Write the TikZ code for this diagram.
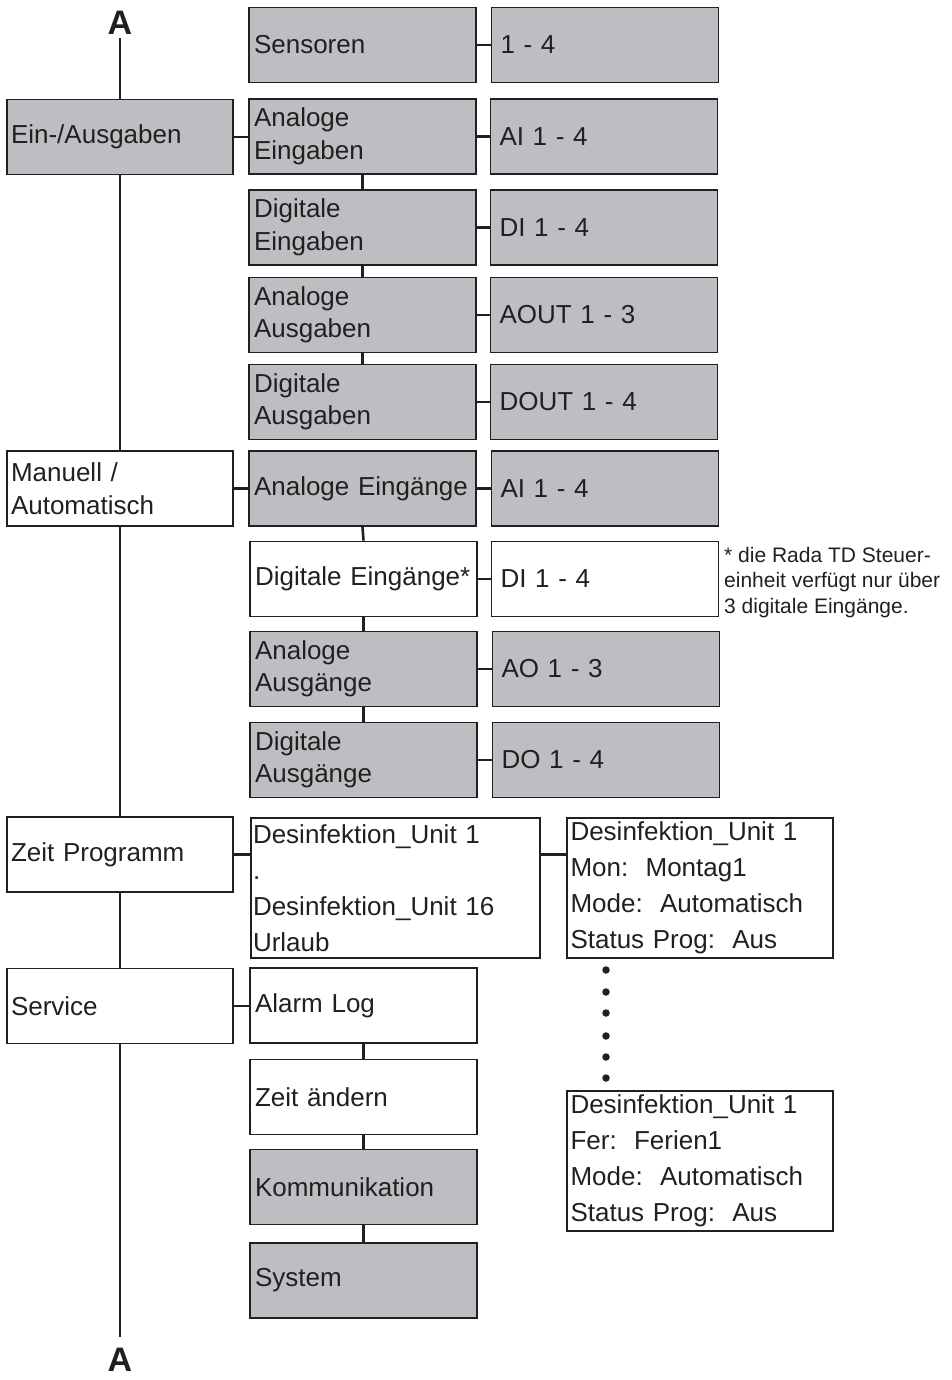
\documentclass[tikz,border=0pt]{standalone}
\usepackage{fontspec}
\setmainfont{Liberation Sans}
\definecolor{ink}{RGB}{35,31,32}
\definecolor{panel}{RGB}{189,190,193}
\begin{document}
\begin{tikzpicture}[x=1pt,y=-1pt,
  box/.style={draw=ink, line width=1.8pt, text=ink, align=left,
    minimum height=75pt, inner ysep=0pt,
    font=\fontsize{26}{32.5}\selectfont},
  shaded/.style={fill=panel},
  colA/.style={box, text width=218pt, inner xsep=4pt},
  colB/.style={box, text width=217pt, inner xsep=5pt},
  colC/.style={box, text width=209pt, inner xsep=9pt},
  tall/.style={minimum height=140pt, font=\fontsize{26}{36}\selectfont},
  link/.style={draw=ink, line width=2.6pt},
  mark A/.style={text=ink, inner sep=0pt, font=\fontsize{34}{34}\selectfont\bfseries},
  dot/.style={circle, fill=ink, inner sep=0pt, minimum size=7.5pt},
]
\useasboundingbox (0,0) rectangle (952,1380);

% continuation marks of the main line
\node[mark A] (atop) at (120,23) {A};
\node[mark A] (abot) at (120,1360) {A};
\coordinate (ltop) at (120,38);
\coordinate (lbot) at (120,1337);

% main menu column
\node[colA, shaded] (io)   at (120,137)   {Ein-/Ausgaben};
\node[colA]         (man)  at (120,488.5) {Manuell /\\Automatisch};
\node[colA]         (zeit) at (120,854.5) {Zeit Programm};
\node[colA]         (serv) at (120,1006)  {Service};

% second level
\node[colB, shaded] (sens) at (362.5,45)    {Sensoren};
\node[colB, shaded] (ae)   at (362.5,136.5) {Analoge\\Eingaben};
\node[colB, shaded] (de)   at (362.5,227.5) {Digitale\\Eingaben};
\node[colB, shaded] (aa)   at (362.5,315)   {Analoge\\Ausgaben};
\node[colB, shaded] (da)   at (362.5,402)   {Digitale\\Ausgaben};
\node[colB, shaded] (mae)  at (362.5,488.5) {Analoge Eingänge};
\node[colB]         (mde)  at (363.5,579)   {Digitale Eingänge*};
\node[colB, shaded] (maa)  at (363.5,669)   {Analoge\\Ausgänge};
\node[colB, shaded] (mda)  at (363.5,760)   {Digitale\\Ausgänge};
\node[box, tall, text width=285pt, inner xsep=2pt] (list) at (395.5,888)
  {Desinfektion\_Unit 1\\.\\Desinfektion\_Unit 16\\Urlaub};
\node[colB]         (alarm) at (363.5,1005.5) {Alarm Log};
\node[colB]         (uhr)   at (363.5,1097)   {Zeit ändern};
\node[colB, shaded] (komm)  at (363.5,1187)   {Kommunikation};
\node[colB, shaded] (sys)   at (363.5,1280.5) {System};

% third level
\node[colC, shaded] (s14)  at (605,45)    {1 - 4};
\node[colC, shaded] (ai)   at (604,136.5) {AI 1 - 4};
\node[colC, shaded] (di)   at (604,227.5) {DI 1 - 4};
\node[colC, shaded] (aout) at (604,315)   {AOUT 1 - 3};
\node[colC, shaded] (dout) at (604,402)   {DOUT 1 - 4};
\node[colC, shaded] (mai)  at (605,488.5) {AI 1 - 4};
\node[colC]         (mdi)  at (605,579)   {DI 1 - 4};
\node[colC, shaded] (mao)  at (606,669)   {AO 1 - 3};
\node[colC, shaded] (mdo)  at (606,760)   {DO 1 - 4};

% time program entries
\node[box, tall, text width=259pt, inner xsep=3.5pt] (prog1) at (700,888)
  {Desinfektion\_Unit 1\\Mon:\ \ Montag1\\Mode:\ \ Automatisch\\Status Prog:\ \ Aus};
\node[box, tall, text width=259pt, inner xsep=3.5pt] (prog2) at (700,1161)
  {Desinfektion\_Unit 1\\Fer:\ \ Ferien1\\Mode:\ \ Automatisch\\Status Prog:\ \ Aus};
\foreach \i/\y in {1/970,2/992,3/1013,4/1036,5/1057,6/1078}
  \node[dot] (d\i) at (606,\y) {};

% footnote
\node[anchor=north west, inner sep=0pt, align=left, text=ink,
  font=\fontsize{21}{25.5}\selectfont] (note) at (724,547)
  {* die Rada TD Steuer-\\einheit verfügt nur über\\3 digitale Eingänge.};

% main vertical line
\draw[link] (ltop) -- (io.north);
\draw[link] (io.south) -- (man.north);
\draw[link] (man.south) -- (zeit.north);
\draw[link] (zeit.south) -- (serv.north);
\draw[link] (serv.south) -- (lbot);

% branches to the second level
\draw[link] (io.east) -- (io.east -| ae.west);
\draw[link] (man.east) -- (man.east -| mae.west);
\draw[link] (zeit.east) -- (zeit.east -| list.west);
\draw[link] (serv.east) -- (serv.east -| alarm.west);

% vertical chains in the second level
\draw[link] (ae.south) -- (de.north);
\draw[link] (de.south) -- (aa.north);
\draw[link] (aa.south) -- (da.north);
\draw[link] (mae.south) -- (mde.north);
\draw[link] (mde.south) -- (maa.north);
\draw[link] (maa.south) -- (mda.north);
\draw[link] (alarm.south) -- (uhr.north);
\draw[link] (uhr.south) -- (komm.north);
\draw[link] (komm.south) -- (sys.north);

% branches to the third level
\foreach \a/\b in {sens/s14, ae/ai, de/di, aa/aout, da/dout, mae/mai, mde/mdi, maa/mao, mda/mdo}
  \draw[link] (\a.east) -- (\a.east -| \b.west);
\draw[link] (zeit.east -| list.east) -- (zeit.east -| prog1.west);
\end{tikzpicture}
\end{document}
